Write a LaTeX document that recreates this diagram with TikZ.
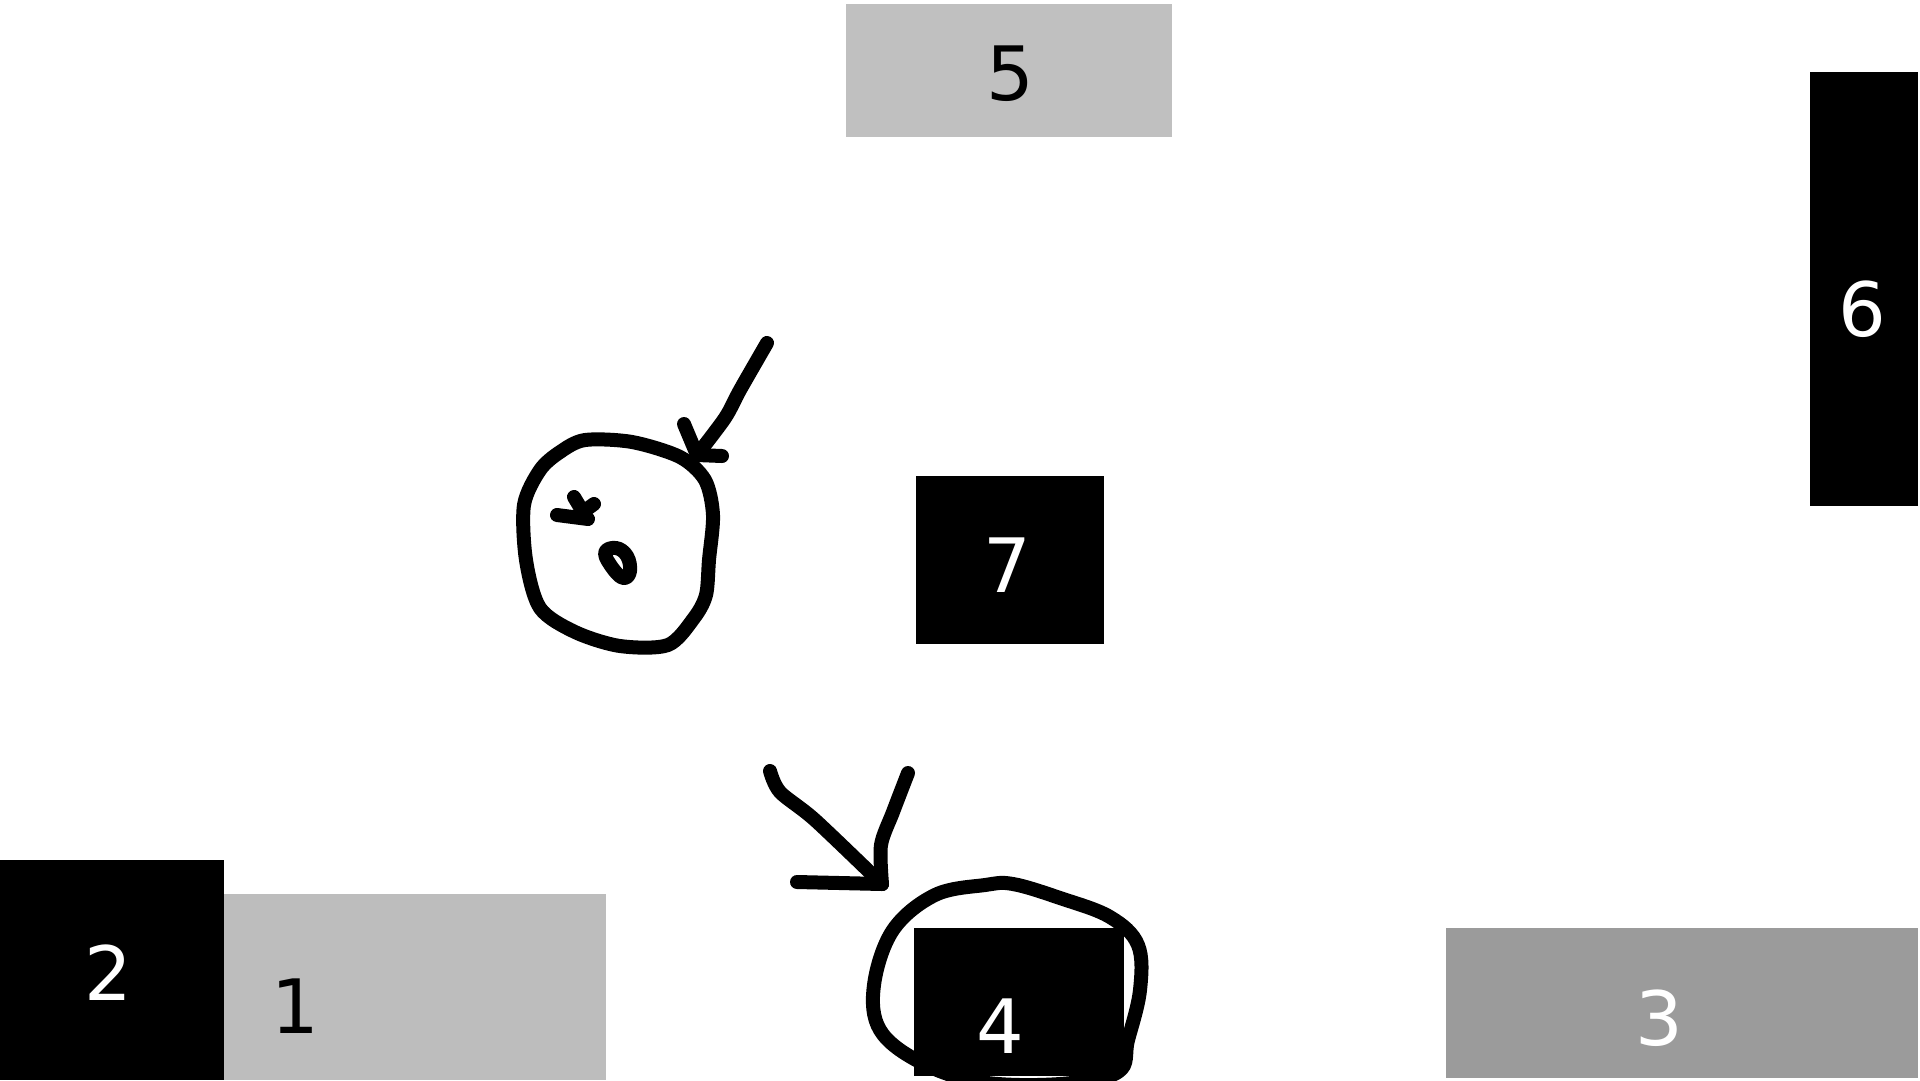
\documentclass[tikz,border=0pt]{standalone}
\usepackage{fontspec}
\setmainfont{DejaVu Sans}
\definecolor{grayA}{HTML}{C0C0C0}
\definecolor{grayB}{HTML}{BDBDBD}
\definecolor{grayC}{HTML}{9B9B9B}
\tikzset{
  boxnode/.style={draw=none, inner sep=0pt, outer sep=0pt, rectangle},
  digit/.style={inner sep=0pt, outer sep=0pt, anchor=base, font=\fontsize{75}{80}\selectfont},
  hand/.style={draw=black, line width=14pt, line cap=round, line join=round}
}
\begin{document}
\begin{tikzpicture}[x=1pt, y=-1pt]
\useasboundingbox[fill=white] (0,0) rectangle (1920,1080);

% boxes
\node[boxnode, fill=grayA, minimum width=326pt, minimum height=133pt] (b5) at (1009,70.5) {};
\node[boxnode, fill=black, minimum width=108pt, minimum height=434pt] (b6) at (1864,289) {};
\node[boxnode, fill=grayB, minimum width=382pt, minimum height=186pt] (b1) at (415,987) {};
\node[boxnode, fill=black, minimum width=224pt, minimum height=220pt] (b2) at (112,970) {};
\node[boxnode, fill=grayC, minimum width=472pt, minimum height=150pt] (b3) at (1682,1003) {};
\node[boxnode, fill=black, minimum width=188pt, minimum height=168pt] (b7) at (1010,560) {};

% hand-drawn face circle
\draw[hand] plot[smooth cycle, tension=0.5] coordinates {
 (585,440) (632,442) (680,457) (705,480) (713,515) (709,560)
 (706,595) (694,618) (668,645) (620,646) (575,632) (540,608)
 (526,560) (524,505) (540,470) (560,452)};
% little marks inside
\draw[hand] (557,515) -- (588,519);
\draw[hand] (574,497) -- (583,512) -- (594,504);
\draw[hand] plot[smooth cycle, tension=0.7] coordinates {
 (605,553) (616,548) (627,556) (630,571) (624,578) (614,570)};

% arrow 1
\coordinate (a1t) at (697,455);
\draw[hand] plot[smooth, tension=0.5] coordinates {
 (767,343) (740,390) (725,418) (a1t)};
\draw[hand] (684,424) -- (697,455) -- (722,456);

% arrow 2
\coordinate (a2t) at (882,884);
\draw[hand] plot[smooth, tension=0.5] coordinates {
 (770,771) (780,792) (815,820) (a2t)};
\draw[hand] plot[smooth, tension=0.5] coordinates {
 (908,773) (893,812) (881,845) (a2t)};
\draw[hand] (797,882) -- (a2t);

% circle around box 4
\draw[hand] plot[smooth cycle, tension=0.6] coordinates {
 (935,895) (985,885) (1013,884) (1060,898) (1110,917) (1138,945)
 (1140,990) (1128,1040) (1118,1072) (1060,1084) (980,1082)
 (920,1062) (880,1030) (874,985) (893,930)};

\node[boxnode, fill=black, minimum width=210pt, minimum height=148pt] (b4) at (1019,1002) {};

% labels
\node[digit, text=black] (t5) at (1010,100) {5};
\node[digit, text=white] (t6) at (1862,336) {6};
\node[digit, text=black] (t1) at (295,1033) {1};
\node[digit, text=white] (t2) at (108,1000) {2};
\node[digit, text=white] (t3) at (1659,1045) {3};
\node[digit, text=white] (t4) at (1000,1053) {4};
\node[digit, text=white] (t7) at (1007,592) {7};
\end{tikzpicture}
\end{document}
